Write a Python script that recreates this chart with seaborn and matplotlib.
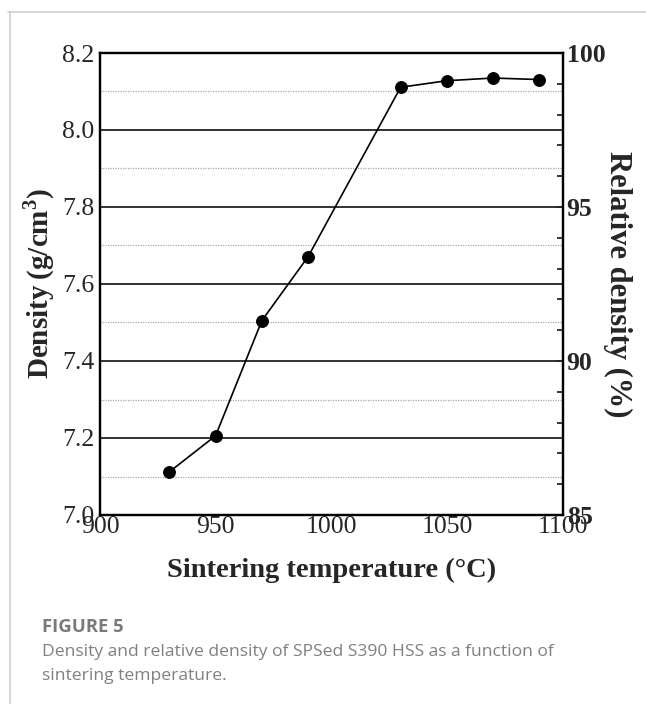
import numpy as np
import pandas as pd
import matplotlib
matplotlib.use("Agg")
import matplotlib.pyplot as plt
import seaborn as sns
from matplotlib.lines import Line2D
from matplotlib.ticker import MultipleLocator

temperature = [930, 950, 970, 990, 1030, 1050, 1070, 1090]
density = [7.112, 7.206, 7.505, 7.671, 8.111, 8.128, 8.135, 8.131]
left_ticks = [7.0, 7.2, 7.4, 7.6, 7.8, 8.0, 8.2]
right_ticks = [85, 90, 95, 100]
x_ticks = [900, 950, 1000, 1050, 1100]

sns.set_theme(style="white")
plt.rcParams['font.family'] = ['Liberation Serif', 'DejaVu Serif']
plt.rcParams['mathtext.fontset'] = 'custom'
plt.rcParams['mathtext.rm'] = 'Liberation Serif'
plt.rcParams['mathtext.bf'] = 'Liberation Serif:bold'

fig = plt.figure(figsize=(6.46, 7.04), dpi=100)
W, H = 646, 704
ax = fig.add_axes([100 / W, 1 - 515 / H, (562.5 - 100) / W, (515 - 53) / H])

df = pd.DataFrame({"T": temperature, "D": density})
sns.lineplot(data=df, x="T", y="D", ax=ax, color="black", lw=1.2,
             marker="o", markersize=8.5, markeredgecolor="black", zorder=5)

ax.set_xlim(900, 1100)
ax.set_ylim(7.0, 8.2)
ax.set_xticks(x_ticks)
ax.set_yticks(left_ticks)
ax.set_yticklabels([f"{v:.1f}" for v in left_ticks])
ax.xaxis.set_minor_locator(MultipleLocator(25))
ax.yaxis.set_minor_locator(MultipleLocator(0.1))

for v in left_ticks[1:-1]:
    ax.axhline(v, color="#222222", lw=1.3, zorder=1)
for v in np.arange(7.1, 8.15, 0.2):
    ax.axhline(v, color="#aaaaaa", lw=0.9, ls=(0, (1, 1)), zorder=1)

ax.tick_params(axis='both', which='both', direction='in', labelsize=18.5,
               color='black', width=1.3)
ax.tick_params(axis='both', which='major', length=5)
ax.tick_params(axis='both', which='minor', length=3)
ax.tick_params(axis='y', which='both', length=0, pad=4)
ax.tick_params(axis='x', pad=1)
for s in ax.spines.values():
    s.set_color('black')
    s.set_linewidth(1.6)

ax.set_xlabel("Sintering temperature (°C)", fontsize=20.5, fontweight='bold', labelpad=14)
ax.set_ylabel("Density\u2009(g/cm$^\\mathbf{3}$)", fontsize=21, fontweight='bold', labelpad=4)

ax2 = ax.twinx()
ax2.set_ylim(85, 100)
ax2.set_yticks(right_ticks)
ax2.yaxis.set_minor_locator(MultipleLocator(1))
ax2.tick_params(axis='y', which='both', direction='in', labelsize=18.5, width=1.3, pad=3)
ax2.tick_params(axis='y', which='major', length=5)
ax2.tick_params(axis='y', which='minor', length=4)
for lab in ax2.get_yticklabels():
    lab.set_fontweight('bold')
ax2.set_ylabel("Relative density (%)", fontsize=22, fontweight='bold',
               rotation=270, labelpad=19)
for s in ax2.spines.values():
    s.set_color('black')
    s.set_linewidth(1.6)
ax2.grid(False)

# card frame
fig.add_artist(Line2D([10 / W, 10 / W], [0, 1 - 12 / H], color="#d0d0d0", lw=1.2))
fig.add_artist(Line2D([8 / W, 1], [1 - 12 / H, 1 - 12 / H], color="#d0d0d0", lw=1.2))

cap_font = ['Open Sans', 'DejaVu Sans']
fig.text(42 / W, 1 - 627 / H, "FIGURE 5", fontsize=13.3, color="#7a7a7a",
         fontweight='bold', family=cap_font, va='center')
fig.text(42 / W, 1 - 652 / H, "Density and relative density of SPSed S390 HSS as a function of",
         fontsize=12.6, color="#808080", family=cap_font, va='center')
fig.text(42 / W, 1 - 676 / H, "sintering temperature.",
         fontsize=12.6, color="#808080", family=cap_font, va='center')

fig.savefig("out.png", dpi=100)
